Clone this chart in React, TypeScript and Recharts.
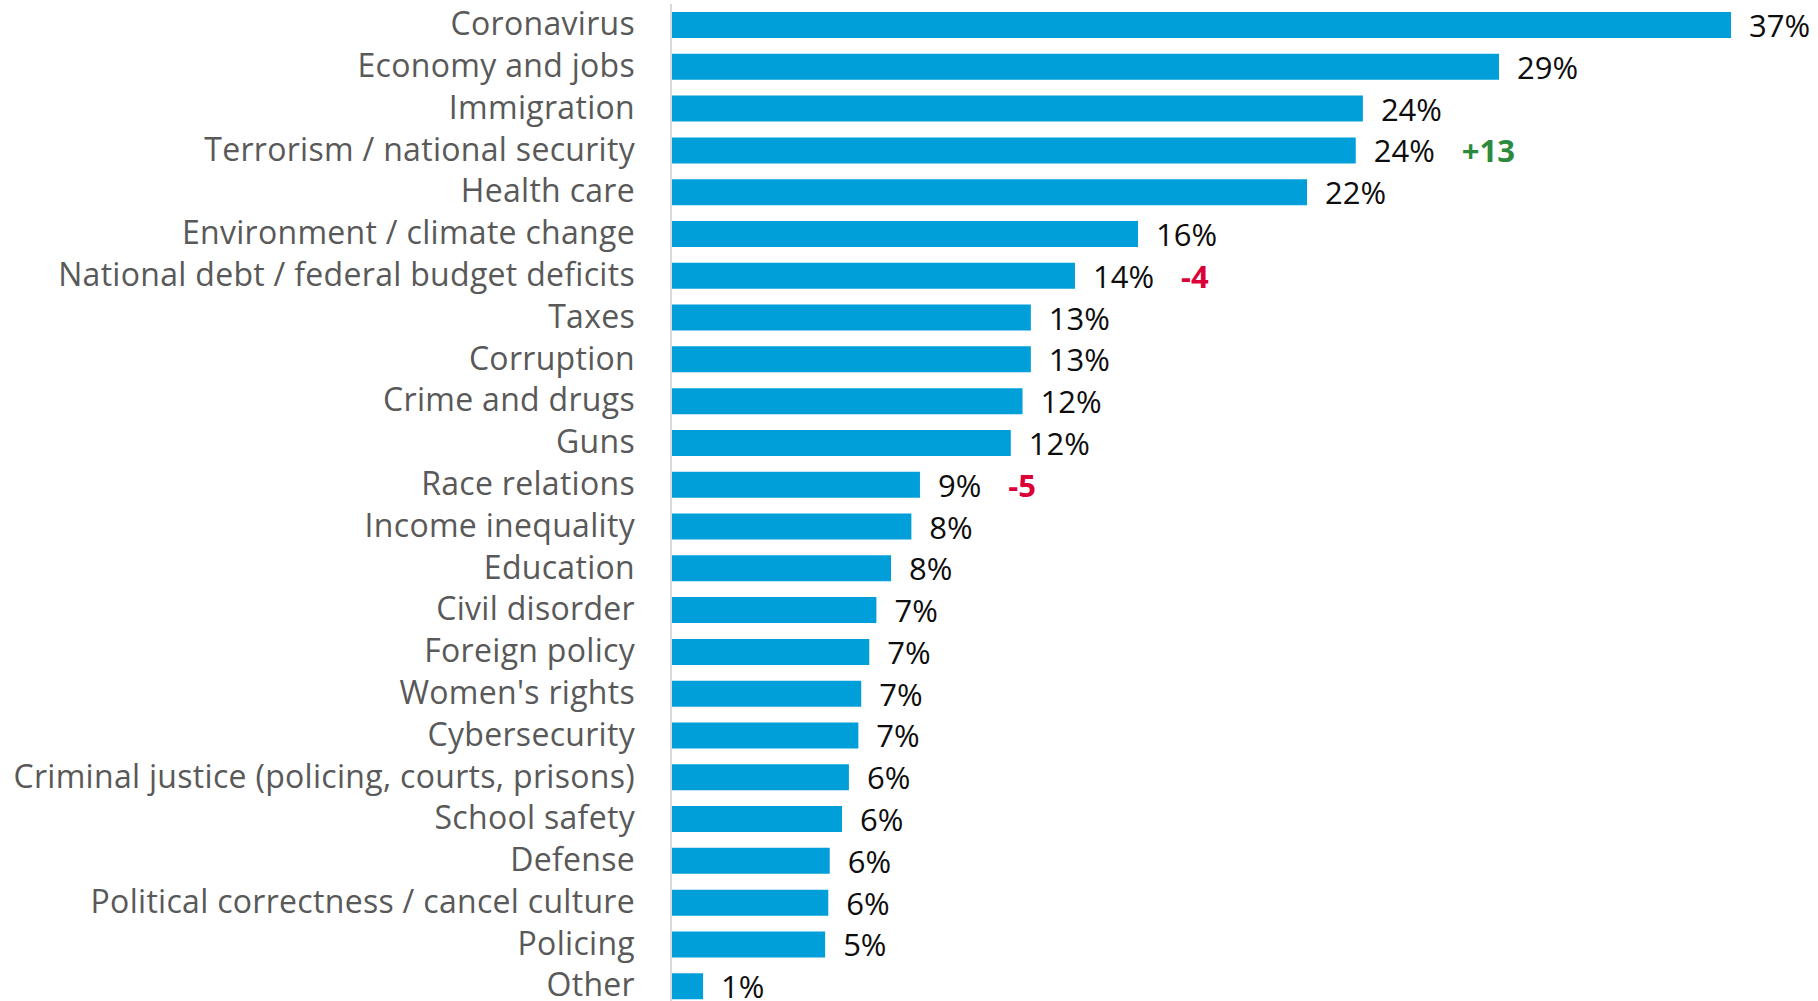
import React from "react";
import { BarChart, Bar, XAxis, YAxis, LabelList } from "recharts";

const categories = [
  "Coronavirus",
  "Economy and jobs",
  "Immigration",
  "Terrorism / national security",
  "Health care",
  "Environment / climate change",
  "National debt / federal budget deficits",
  "Taxes",
  "Corruption",
  "Crime and drugs",
  "Guns",
  "Race relations",
  "Income inequality",
  "Education",
  "Civil disorder",
  "Foreign policy",
  "Women's rights",
  "Cybersecurity",
  "Criminal justice (policing, courts, prisons)",
  "School safety",
  "Defense",
  "Political correctness / cancel culture",
  "Policing",
  "Other",
];

const shares = [
  37.0, 28.9, 24.15, 23.9, 22.2, 16.3, 14.1, 12.56, 12.56, 12.27, 11.86, 8.69,
  8.39, 7.68, 7.17, 6.92, 6.64, 6.54, 6.21, 5.97, 5.54, 5.49, 5.38, 1.12,
];

const shareLabels = [
  "37%", "29%", "24%", "24%", "22%", "16%", "14%", "13%", "13%", "12%", "12%", "9%",
  "8%", "8%", "7%", "7%", "7%", "7%", "6%", "6%", "6%", "6%", "5%", "1%",
];

const changes = [
  "", "", "", "+13", "", "", "-4", "", "", "", "", "-5",
  "", "", "", "", "", "", "", "", "", "", "", "",
];

const data = categories.map((name, i) => ({
  name,
  value: shares[i],
  label: shareLabels[i],
  change: changes[i],
}));

const FONT = "'Open Sans', sans-serif";

const ValueLabel = (props: any) => {
  const { x, y, width, height, index } = props;
  const d = data[index];
  const change = d.change;
  const isUp = change.startsWith("+");
  return (
    <text
      x={Number(x) + Number(width) + 18}
      y={Number(y) + Number(height) / 2}
      dominantBaseline="central"
      fontFamily={FONT}
      fontSize={31}
      fill="#0d0d0d"
    >
      <tspan>{d.label}</tspan>
      {change ? (
        <tspan dx={27} fontWeight={700} fill={isUp ? "#2B8A3E" : "#DC0039"}>
          {change}
        </tspan>
      ) : null}
    </text>
  );
};

export default function App() {
  return (
    <div
      style={{
        position: "absolute",
        left: 0,
        top: 0,
        width: 1818,
        height: 1001,
        overflow: "hidden",
        background: "#fff",
      }}
    >
      <BarChart
        width={1818}
        height={1007}
        data={data}
        layout="vertical"
        margin={{ top: 4, right: 1, bottom: 0, left: 0 }}
      >
        <XAxis type="number" domain={[0, 40]} hide />
        <YAxis
          type="category"
          dataKey="name"
          width={671}
          interval={0}
          tickLine={false}
          tickSize={0}
          tickMargin={36}
          axisLine={{ stroke: "#d9d9d9", strokeWidth: 2 }}
          tick={{ fill: "#595959", fontSize: 32, fontFamily: FONT, letterSpacing: 0.3, dy: -1 }}
        />
        <Bar dataKey="value" fill="#009FDA" barSize={26} isAnimationActive={false}>
          <LabelList dataKey="value" content={<ValueLabel />} />
        </Bar>
      </BarChart>
    </div>
  );
}
